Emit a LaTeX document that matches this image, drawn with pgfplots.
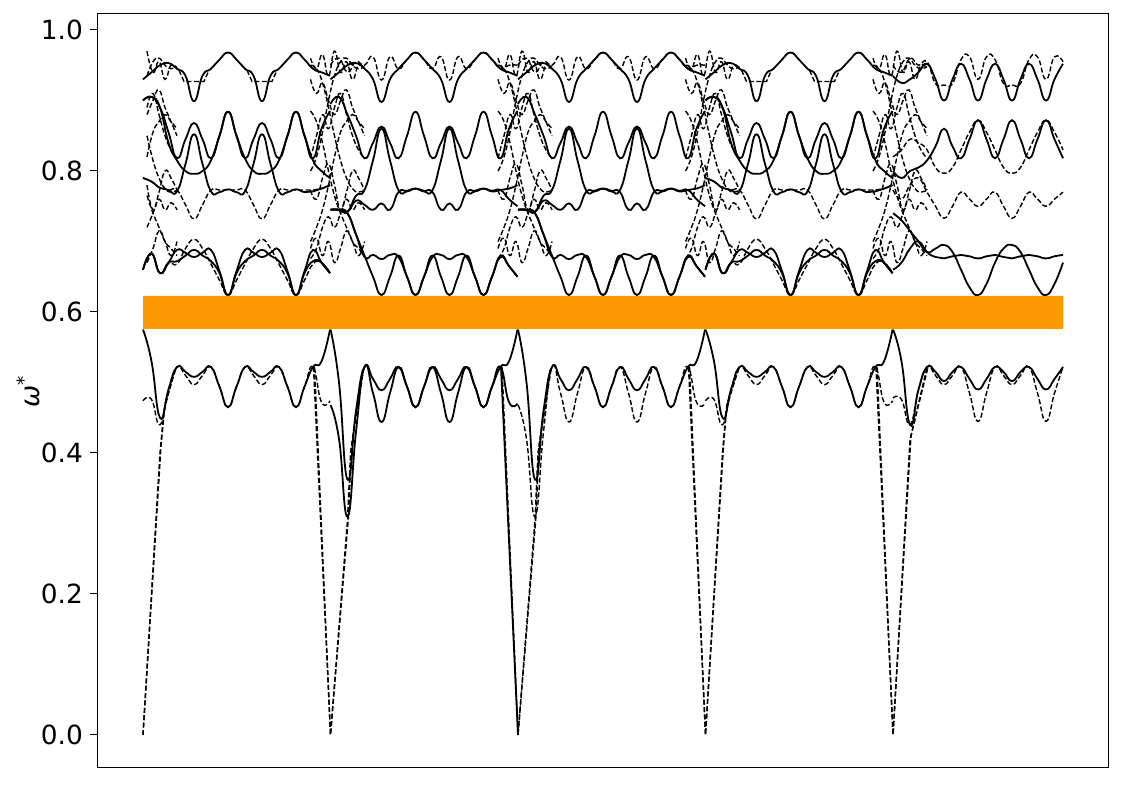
\documentclass[border=0pt]{standalone}
\usepackage{pgfplots}
\pgfplotsset{compat=1.18}
\usepackage{pgfplotstable}
\usepackage{fontspec}
\setmainfont{DejaVu Sans}
\definecolor{gapfill}{RGB}{255,153,0}

% band shapes of one stretch of the path, u = distance from the stretch start
% type A: stretches 1 and 4
\pgfplotstableread{
u T S C B D3 W4a W4b D4 L1 L2
0 0.930 0.900 0.900 0.790 0.790 0.660 0.660 0.660 0.575 0.474
8.5 0.940 0.905 0.905 0.785 0.785 0.683 0.683 0.683 0.530 0.476
17 0.950 0.890 0.890 0.776 0.776 0.655 0.655 0.655 0.450 0.440
25.5 0.953 0.855 0.840 0.773 0.773 0.670 0.670 0.670 0.490 0.490
34 0.945 0.818 0.815 0.771 0.773 0.688 0.672 0.668 0.522 0.522
42.5 0.935 0.845 0.800 0.810 0.752 0.684 0.680 0.690 0.515 0.510
51 0.899 0.868 0.796 0.852 0.732 0.678 0.688 0.703 0.508 0.497
59.5 0.935 0.845 0.800 0.810 0.752 0.684 0.680 0.690 0.515 0.510
68 0.945 0.818 0.815 0.771 0.773 0.688 0.672 0.668 0.522 0.522
76.5 0.958 0.850 0.850 0.770 0.773 0.658 0.655 0.645 0.494 0.494
85 0.968 0.884 0.884 0.774 0.773 0.624 0.624 0.624 0.465 0.465
93.5 0.958 0.850 0.850 0.770 0.773 0.658 0.655 0.645 0.494 0.494
102 0.945 0.818 0.818 0.771 0.773 0.688 0.672 0.668 0.522 0.522
110.5 0.935 0.845 0.800 0.810 0.752 0.684 0.680 0.690 0.515 0.510
119 0.899 0.868 0.796 0.852 0.732 0.678 0.688 0.703 0.508 0.497
127.5 0.935 0.845 0.800 0.810 0.752 0.684 0.680 0.690 0.515 0.510
136 0.945 0.818 0.815 0.771 0.773 0.688 0.672 0.668 0.522 0.522
144.5 0.958 0.850 0.850 0.770 0.773 0.658 0.655 0.645 0.494 0.494
153 0.968 0.884 0.884 0.774 0.773 0.624 0.624 0.624 0.465 0.465
161.5 0.958 0.850 0.850 0.770 0.773 0.658 0.655 0.645 0.494 0.494
170 0.945 0.818 0.815 0.771 0.773 0.688 0.672 0.668 0.522 0.522
178.5 0.940 0.860 0.800 0.775 0.775 0.670 0.670 0.670 0.530 0.472
187 0.935 0.885 0.790 0.780 0.780 0.655 0.655 0.655 0.575 0.474
}\typeA

\pgfplotstableread{
ua ya ub yb
36 0.943 104 0.943
41 0.927 109 0.927
61 0.927 129 0.927
66 0.943 134 0.943
}\typeAflat

% type B: stretches 2 and 3
\pgfplotstableread{
u T S B M W4a W4b L1 L2 Dt
0 0.930 0.895 0.745 0.745 0.745 0.745 0.575 0.468 0.950
8.5 0.940 0.905 0.745 0.745 0.745 0.745 0.500 0.420 0.960
17 0.950 0.880 0.742 0.742 0.740 0.740 0.362 0.310 0.940
25.5 0.953 0.850 0.765 0.758 0.710 0.710 0.460 0.430 0.955
34 0.945 0.818 0.773 0.752 0.680 0.678 0.522 0.522 0.950
42.5 0.930 0.840 0.815 0.745 0.650 0.681 0.505 0.485 0.962
51 0.898 0.863 0.860 0.754 0.624 0.675 0.489 0.444 0.929
59.5 0.930 0.840 0.815 0.745 0.650 0.681 0.505 0.485 0.962
68 0.945 0.818 0.773 0.770 0.680 0.678 0.522 0.522 0.945
76.5 0.958 0.850 0.771 0.772 0.650 0.650 0.494 0.494 0.958
85 0.968 0.884 0.775 0.775 0.624 0.624 0.465 0.465 0.968
93.5 0.958 0.850 0.771 0.772 0.650 0.650 0.494 0.494 0.958
102 0.945 0.818 0.773 0.770 0.680 0.678 0.522 0.522 0.945
110.5 0.930 0.840 0.815 0.745 0.650 0.681 0.505 0.485 0.962
119 0.898 0.863 0.860 0.754 0.624 0.675 0.489 0.444 0.929
127.5 0.930 0.840 0.815 0.745 0.650 0.681 0.505 0.485 0.962
136 0.945 0.818 0.773 0.770 0.680 0.678 0.522 0.522 0.945
144.5 0.958 0.850 0.771 0.772 0.650 0.650 0.494 0.494 0.958
153 0.968 0.884 0.775 0.775 0.624 0.624 0.465 0.465 0.968
161.5 0.958 0.850 0.771 0.772 0.650 0.650 0.494 0.494 0.958
170 0.945 0.818 0.773 0.773 0.680 0.678 0.522 0.522 0.945
178.5 0.940 0.860 0.775 0.760 0.665 0.665 0.530 0.472 0.950
187 0.935 0.885 0.780 0.750 0.650 0.650 0.575 0.470 0.950
}\typeB

% type C: stretch 5
\pgfplotstableread{
u T S Dt Db Dc W5a W5b L1 L2
0 0.935 0.800 0.950 0.820 0.773 0.740 0.660 0.575 0.478
8.5 0.925 0.790 0.940 0.830 0.760 0.730 0.670 0.530 0.476
17 0.930 0.800 0.960 0.845 0.780 0.715 0.690 0.440 0.440
25.5 0.940 0.805 0.950 0.840 0.790 0.700 0.700 0.490 0.490
34 0.952 0.815 0.955 0.830 0.770 0.685 0.685 0.522 0.522
42.5 0.930 0.835 0.924 0.805 0.750 0.690 0.678 0.515 0.510
51 0.900 0.860 0.922 0.797 0.733 0.695 0.676 0.502 0.497
59.5 0.930 0.835 0.924 0.805 0.750 0.685 0.679 0.515 0.510
68 0.952 0.818 0.958 0.830 0.770 0.660 0.681 0.522 0.522
76.5 0.930 0.845 0.962 0.855 0.760 0.635 0.679 0.505 0.485
85 0.900 0.872 0.930 0.872 0.750 0.624 0.676 0.490 0.445
93.5 0.930 0.845 0.962 0.855 0.760 0.640 0.679 0.505 0.485
102 0.952 0.818 0.958 0.830 0.770 0.670 0.681 0.522 0.522
110.5 0.930 0.845 0.924 0.805 0.750 0.690 0.678 0.515 0.510
119 0.900 0.872 0.922 0.797 0.733 0.695 0.676 0.502 0.497
127.5 0.930 0.845 0.924 0.805 0.750 0.685 0.679 0.515 0.510
136 0.952 0.818 0.958 0.830 0.770 0.660 0.681 0.522 0.522
144.5 0.930 0.845 0.962 0.855 0.760 0.635 0.679 0.505 0.485
153 0.900 0.872 0.930 0.872 0.750 0.624 0.676 0.490 0.445
161.5 0.930 0.845 0.962 0.855 0.760 0.640 0.679 0.505 0.485
170 0.952 0.818 0.955 0.830 0.770 0.670 0.681 0.522 0.522
}\typeC

% crossing branches around each stretch start, v = distance from the start
\pgfplotstableread{
v X1 X2 X3 X4 X5 X6 X7 X8 X9 X10
-20 0.950 0.800 0.885 0.700 0.960 0.773 0.676 0.818 0.690 0.930
-14 0.945 0.820 0.870 0.720 0.945 0.760 0.690 0.850 0.705 0.910
-8 0.925 0.855 0.840 0.745 0.965 0.790 0.720 0.880 0.680 0.925
-2 0.890 0.900 0.800 0.780 0.935 0.810 0.735 0.860 0.700 0.900
4 0.850 0.935 0.765 0.820 0.970 0.780 0.720 0.890 0.670 0.880
10 0.815 0.955 0.740 0.855 0.940 0.745 0.740 0.910 0.690 0.900
16 0.790 0.960 0.720 0.870 0.955 0.770 0.760 0.880 0.715 0.915
22 0.775 0.950 0.700 0.880 0.930 0.800 0.745 0.850 0.700 0.890
28 0.770 0.945 0.690 0.870 0.950 0.790 0.755 0.830 0.680 0.870
34 0.773 0.948 0.680 0.860 0.945 0.773 0.745 0.818 0.700 0.850
}\trans

\begin{document}
\begin{tikzpicture}
\begin{axis}[
    scale only axis,
    width=505.5pt, height=377pt,
    xmin=97, xmax=1108,
    ymin=-0.0468, ymax=1.0227,
    restrict x to domain=142.9:1063.1,
    xtick=\empty,
    ytick={0,0.2,0.4,0.6,0.8,1.0},
    ytick pos=left,
    tick align=outside,
    major tick length=3.5pt,
    tick style={line width=0.5pt, black},
    axis line style={line width=0.5pt},
    /pgf/number format/assume math mode=true,
    yticklabel style={/pgf/number format/.cd, fixed, fixed zerofill, precision=1, /tikz/.cd,
        font=\fontsize{13.2}{16}\selectfont},
    ylabel={\itshape ω\textsuperscript{*}},
    ylabel style={font=\fontsize{13.2}{16}\selectfont, at={(axis description cs:-0.0682,0.5)}, anchor=center},
    sol/.style={black, line width=0.9pt, smooth, tension=0.85},
    das/.style={black, line width=0.7pt, dash pattern=on 2.5pt off 1.2pt, smooth, tension=0.85},
    dasp/.style={black, line width=0.7pt, dash pattern=on 2.5pt off 1.2pt, sharp plot},
]
\coordinate (bl) at (rel axis cs:0,0);
\coordinate (tr) at (rel axis cs:1,1);

% stretches 1 and 4
\pgfplotsinvokeforeach{143,705.5}{
  \addplot[das] table[x expr=\thisrow{u}+#1, y=D3]{\typeA};
  \addplot[das] table[x expr=\thisrow{u}+#1, y=D4]{\typeA};
  \addplot[das] table[x expr=\thisrow{u}+#1, y=L2]{\typeA};
  \addplot[dasp] table[x expr=\thisrow{ua}+#1, y=ya]{\typeAflat};
  \addplot[dasp] table[x expr=\thisrow{ub}+#1, y=yb]{\typeAflat};
  \addplot[sol] table[x expr=\thisrow{u}+#1, y=T]{\typeA};
  \addplot[sol] table[x expr=\thisrow{u}+#1, y=S]{\typeA};
  \addplot[sol] table[x expr=\thisrow{u}+#1, y=C]{\typeA};
  \addplot[sol] table[x expr=\thisrow{u}+#1, y=B]{\typeA};
  \addplot[sol] table[x expr=\thisrow{u}+#1, y=W4a]{\typeA};
  \addplot[sol] table[x expr=\thisrow{u}+#1, y=W4b]{\typeA};
  \addplot[sol] table[x expr=\thisrow{u}+#1, y=L1]{\typeA};
}

% stretches 2 and 3
\pgfplotsinvokeforeach{330.5,518}{
  \addplot[das] table[x expr=\thisrow{u}+#1, y=Dt]{\typeB};
  \addplot[sol] table[x expr=\thisrow{u}+#1, y=T]{\typeB};
  \addplot[sol] table[x expr=\thisrow{u}+#1, y=S]{\typeB};
  \addplot[sol] table[x expr=\thisrow{u}+#1, y=B]{\typeB};
  \addplot[sol] table[x expr=\thisrow{u}+#1, y=M]{\typeB};
  \addplot[sol] table[x expr=\thisrow{u}+#1, y=W4a]{\typeB};
  \addplot[sol] table[x expr=\thisrow{u}+#1, y=W4b]{\typeB};
  \addplot[sol] table[x expr=\thisrow{u}+#1, y=L1]{\typeB};
}
\addplot[sol] table[x expr=\thisrow{u}+330.5, y=L2]{\typeB};
\addplot[das] table[x expr=\thisrow{u}+518, y=L2]{\typeB};

% stretch 5
\addplot[das] table[x expr=\thisrow{u}+893, y=Dt]{\typeC};
\addplot[das] table[x expr=\thisrow{u}+893, y=Db]{\typeC};
\addplot[das] table[x expr=\thisrow{u}+893, y=Dc]{\typeC};
\addplot[das] table[x expr=\thisrow{u}+893, y=L2]{\typeC};
\addplot[sol] table[x expr=\thisrow{u}+893, y=T]{\typeC};
\addplot[sol] table[x expr=\thisrow{u}+893, y=S]{\typeC};
\addplot[sol] table[x expr=\thisrow{u}+893, y=W5a]{\typeC};
\addplot[sol] table[x expr=\thisrow{u}+893, y=W5b]{\typeC};
\addplot[sol] table[x expr=\thisrow{u}+893, y=L1]{\typeC};

% crossings near the stretch starts
\pgfplotsinvokeforeach{143,330.5,518,705.5,893}{
  \addplot[das] table[x expr=\thisrow{v}+#1, y=X1]{\trans};
  \addplot[das] table[x expr=\thisrow{v}+#1, y=X2]{\trans};
  \addplot[das] table[x expr=\thisrow{v}+#1, y=X3]{\trans};
  \addplot[das] table[x expr=\thisrow{v}+#1, y=X4]{\trans};
  \addplot[das] table[x expr=\thisrow{v}+#1, y=X5]{\trans};
  \addplot[das] table[x expr=\thisrow{v}+#1, y=X6]{\trans};
  \addplot[das] table[x expr=\thisrow{v}+#1, y=X7]{\trans};
  \addplot[das] table[x expr=\thisrow{v}+#1, y=X8]{\trans};
  \addplot[das] table[x expr=\thisrow{v}+#1, y=X9]{\trans};
  \addplot[das] table[x expr=\thisrow{v}+#1, y=X10]{\trans};
}

% acoustic branches
\addplot[dasp] coordinates {(143,0) (160,0.40) (164,0.46) (175,0.52)};
\addplot[dasp] coordinates {(143,0) (161,0.41) (165,0.47) (176,0.52)};
\addplot[dasp] coordinates {(313.5,0.522) (330.5,0) (347.5,0.305) (350.5,0.40) (362.5,0.518)};
\addplot[dasp] coordinates {(314.5,0.522) (330.5,0) (348.5,0.31) (351.5,0.41) (363.5,0.518)};
\addplot[sol, sharp plot] coordinates {(501,0.522) (518,0)};
\addplot[dasp] coordinates {(502,0.522) (518,0) (535,0.305) (538,0.40) (550,0.518)};
\addplot[dasp] coordinates {(518,0) (536,0.31) (539,0.41) (551,0.518)};
\addplot[dasp] coordinates {(688.5,0.522) (705.5,0) (722.5,0.40) (726,0.46) (738,0.52)};
\addplot[dasp] coordinates {(689.5,0.522) (705.5,0) (723.5,0.41) (727,0.47) (739,0.52)};
\addplot[dasp] coordinates {(876,0.522) (893,0) (910,0.418) (926.7,0.52)};
\addplot[dasp] coordinates {(877,0.522) (893,0) (911,0.425) (927.7,0.52)};

% band gap
\addplot[fill=gapfill, draw=none, sharp plot] coordinates {(143,0.5759) (1063,0.5759) (1063,0.6227) (143,0.6227) (143,0.5759)};
\end{axis}
\pgfresetboundingbox
\path ([xshift=-48.5pt,yshift=-8.5pt]bl) rectangle ([xshift=8.5pt,yshift=7pt]tr);
\end{tikzpicture}
\end{document}
